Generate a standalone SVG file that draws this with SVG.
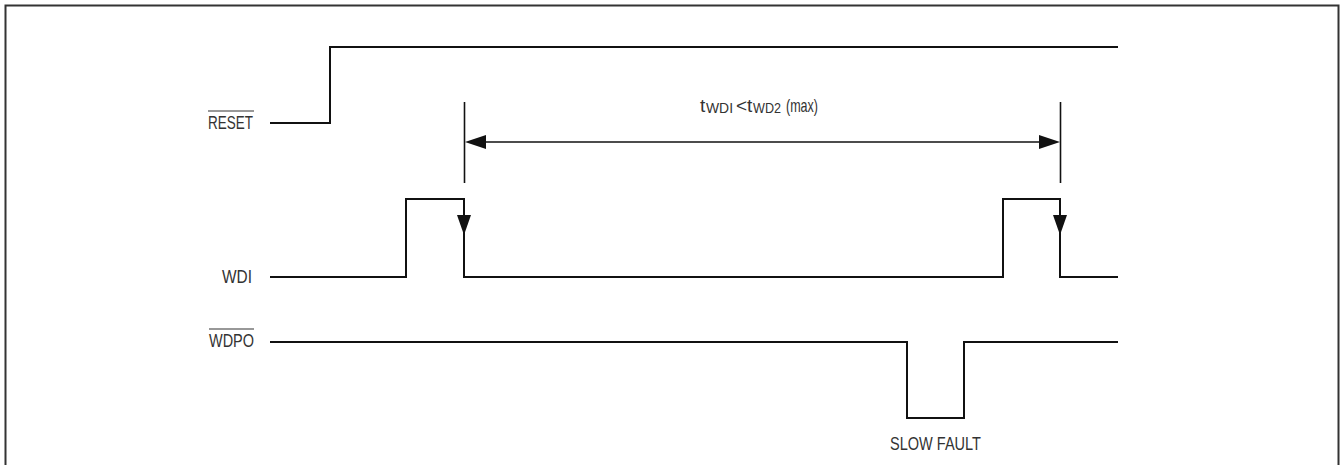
<svg xmlns="http://www.w3.org/2000/svg" width="1340" height="465" viewBox="0 0 1340 465">
<style>
.sig{fill:none;stroke:#111;stroke-width:2;stroke-linejoin:miter}
.dim{fill:none;stroke:#111;stroke-width:1.6}
.lbl{font-family:"Liberation Sans",Arial,sans-serif;font-size:19px;fill:#333}
.sub{font-size:15px}
.ov{stroke:#333;stroke-width:1.2}
.head{fill:#111}
</style>
<rect x="5.5" y="5.5" width="1333" height="470" fill="#fff" stroke="#333" stroke-width="2"/>
<g id="labels">
<g id="reset-label"><text class="lbl" x="208" y="129" textLength="45" lengthAdjust="spacingAndGlyphs">RESET</text><line class="ov" x1="208" y1="111" x2="254" y2="111"/></g>
<g id="wdi-label"><text class="lbl" x="222" y="283" textLength="30" lengthAdjust="spacingAndGlyphs">WDI</text></g>
<g id="wdpo-label"><text class="lbl" x="209" y="347" textLength="45" lengthAdjust="spacingAndGlyphs">WDPO</text><line class="ov" x1="209" y1="329" x2="254" y2="329"/></g>
<g id="timing-label">
<text class="lbl" x="700" y="112">t</text>
<text class="lbl sub" x="706" y="113" textLength="27" lengthAdjust="spacingAndGlyphs">WDI</text>
<text class="lbl" x="736" y="112">&lt;</text>
<text class="lbl" x="747" y="112">t</text>
<text class="lbl sub" x="753" y="113" textLength="28" lengthAdjust="spacingAndGlyphs">WD2</text>
<text class="lbl" x="786" y="112" textLength="32" lengthAdjust="spacingAndGlyphs">(max)</text>
</g>
<g id="slow-fault-label"><text class="lbl" x="890" y="450" textLength="91" lengthAdjust="spacingAndGlyphs">SLOW FAULT</text></g>
</g>
<g id="connectors">
<g id="reset"><polyline class="sig" points="270,123 330,123 330,47 1118,47"/></g>
<g id="wdi"><polyline class="sig" points="270,277 406,277 406,199 464,199 464,277 1003,277 1003,199 1060,199 1060,277 1118,277"/>
<polygon class="head" points="457,215 471,215 464,235"/>
<polygon class="head" points="1053,215 1067,215 1060,235"/></g>
<g id="wdpo"><polyline class="sig" points="270,342 907,342 907,418 964,418 964,342 1118,342"/></g>
<g id="dimension">
<line class="dim" x1="464.5" y1="102" x2="464.5" y2="183"/>
<line class="dim" x1="1060.5" y1="102" x2="1060.5" y2="183"/>
<line class="dim" x1="480" y1="142" x2="1045" y2="142"/>
<polygon class="head" points="465,142 486,135 486,149"/>
<polygon class="head" points="1060,142 1039,135 1039,149"/>
</g>
</g>
</svg>
